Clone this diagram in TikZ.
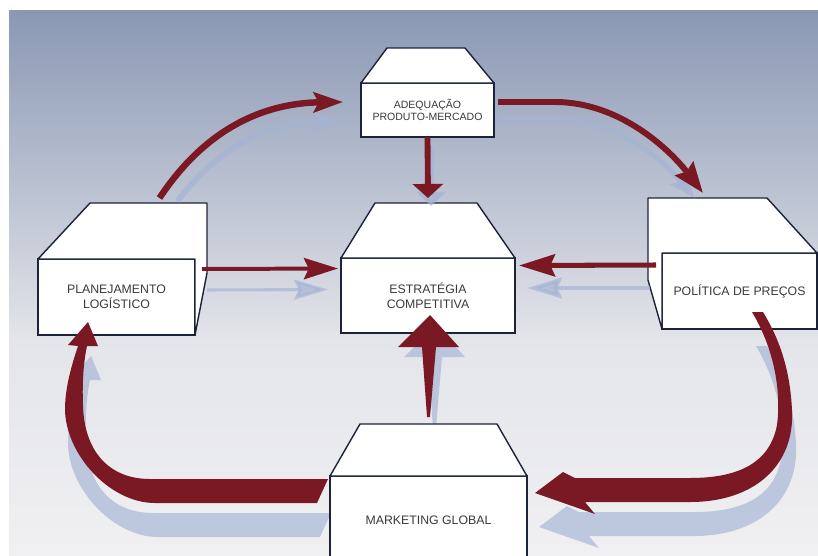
\documentclass[tikz,border=0pt]{standalone}
\usepackage{fontspec}
\setmainfont{Liberation Sans}
\usetikzlibrary{arrows.meta,calc}
\definecolor{flowred}{RGB}{122,24,36}
\definecolor{flowshade}{RGB}{165,180,212}
\definecolor{boxline}{RGB}{28,34,58}
\definecolor{bgtop}{RGB}{138,152,180}
\definecolor{bgmid}{RGB}{228,229,234}
\definecolor{bgbottom}{RGB}{240,240,242}
\definecolor{textgray}{RGB}{58,58,62}
\tikzset{
  every node/.style={
    font=\fontsize{10.5}{12.8}\selectfont,
    text=textgray
  },
  front/.style n args={2}{
    shape=rectangle,
    minimum width=#1*0.3mm,
    minimum height=#2*0.3mm,
    inner sep=0pt,
    outer sep=0pt,
    align=center,
    draw=boxline,
    line width=1.2pt,
    fill=white
  },
  topface/.style={
    draw=boxline,
    line width=1.2pt,
    line join=round,
    fill=white
  },
  shadowflow/.style={
    flowshade,
    opacity=0.67
  },
  flow/.style n args={4}{
    line width=#1,
    -{Stealth[length=#2,width=#3,inset=#4]}
  },
  push up/.pic={
    \fill[pic actions] (427,-417) -- (422,-347) -- (398,-347) -- (430,-315)
      -- (459,-347) -- (436,-347) -- (430,-417) -- cycle;
  },
  loop left/.pic={
    \fill[pic actions] (328,-479) -- (150,-479)
      .. controls (108,-479) and (84,-450) .. (83,-405)
      .. controls (82,-380) and (84,-360) .. (87,-346)
      -- (98,-346) -- (88,-322) -- (68,-345) -- (78,-346)
      .. controls (70,-370) and (65,-390) .. (65,-410)
      .. controls (66,-455) and (110,-503) .. (155,-503)
      -- (317,-503) -- cycle;
  },
  loop right/.pic={
    \fill[pic actions] (752,-312)
      .. controls (776,-352) and (781,-395) .. (777,-425)
      .. controls (770,-462) and (740,-478) .. (690,-478)
      -- (575,-478) -- (563,-472) -- (535,-493) -- (595,-514) -- (585,-502)
      -- (690,-502)
      .. controls (755,-502) and (795,-465) .. (792,-410)
      .. controls (790,-370) and (780,-340) .. (763,-312) -- cycle;
  }
}
\begin{document}
\begin{tikzpicture}[x=0.3mm,y=0.3mm]
  \useasboundingbox (0,0) rectangle (818,-555);
  \clip (0,0) rectangle (818,-555);
  % background
  \fill[white] (0,0) rectangle (818,-555);
  \fill[top color=bgtop, bottom color=bgmid] (9,-10) rectangle (818,-341);
  \fill[top color=bgmid, bottom color=bgbottom] (9,-340) rectangle (818,-555);

  % shadows of the wide arrows
  \pic[fill=flowshade, opacity=0.67] at (6,-10) {push up};
  \pic[fill=flowshade, opacity=0.67] at (3,-34) {loop left};
  \pic[fill=flowshade, opacity=0.67] at (4,-34) {loop right};

  % boxes
  \node[front={133}{54}, font=\fontsize{9}{10.2}\selectfont] (adeq) at (427.5,-110) {ADEQUAÇÃO\\PRODUTO-MERCADO};
  \node[front={157}{76}] (plan) at (116.5,-297) {PLANEJAMENTO\\LOGÍSTICO};
  \node[front={174}{75}] (estr) at (428,-295.5) {ESTRATÉGIA\\COMPETITIVA};
  \node[front={155}{76}] (prec) at (739.5,-291) {POLÍTICA DE PREÇOS};
  \node[front={197}{88}] (mkt) at (428.5,-520) {MARKETING GLOBAL};

  \draw[topface] (adeq.north west) -- ++(26,35) -- ++(78,0) -- (adeq.north east) -- cycle;
  \draw[topface] (plan.north west) -- ++(52,56) -- ++(117,0) -- ++(0,-70) -- (plan.south east) -- (plan.north east) -- cycle;
  \draw[topface] (estr.north west) -- ++(34,55) -- ++(102,0) -- (estr.north east) -- cycle;
  \draw[topface] (prec.north east) -- ++(-50,55) -- ++(-119,0) -- ++(0,-82) -- (prec.south west) -- (prec.north west) -- cycle;
  \draw[topface] (mkt.north west) -- ++(30,52) -- ++(137,0) -- (mkt.north east) -- cycle;

  % shadows of the narrow arrows
  \draw[shadowflow, flow={5pt}{24pt}{16pt}{4pt}] ($(plan.north)+(61,58)$)
    .. controls +(40,52) and +(-78,0) .. ($(adeq.west)+(-18,-12)$);
  \draw[shadowflow, flow={4.5pt}{22pt}{17pt}{3pt}] ($(adeq.east)+(5,-9)$) -- ++(56,0)
    .. controls +(60,0) and +(-33,40) .. ($(prec.north)+(-45,55)$);
  \draw[shadowflow, flow={5pt}{12pt}{25pt}{0pt}] ($(adeq.south)+(4,-10)$) -- ($(estr.north)+(3,52)$);
  \draw[shadowflow, flow={2.6pt}{29pt}{17pt}{4pt}] ($(plan.east)+(12,7)$) -- ($(estr.west)+(-13,6)$);
  \draw[shadowflow, flow={3.4pt}{30pt}{18pt}{4pt}] ($(prec.west)+(-12,3)$) -- ($(estr.east)+(12,7.5)$);

  % arrows
  \draw[flowred, flow={5.5pt}{25pt}{17pt}{4.3pt}] ($(plan.north)+(43,61)$)
    .. controls +(45,68) and +(-81,-1) .. ($(adeq.west)+(-18,8)$);
  \draw[flowred, flow={5.1pt}{26pt}{19pt}{3pt}] ($(adeq.east)+(4,8)$) -- ++(57,0)
    .. controls +(65,0) and +(-33,43) .. ($(prec.north)+(-36.5,60)$);
  \draw[flowred, flow={5pt}{12pt}{25.6pt}{0pt}] (adeq.south) -- ($(estr.north)+(0,60)$);
  \draw[flowred, flow={3.4pt}{29pt}{18pt}{4pt}] ($(plan.east)+(7,28)$) -- ($(estr.west)+(-3,27)$);
  \draw[flowred, flow={4.3pt}{30.7pt}{18.8pt}{4pt}] ($(prec.west)+(-6,26)$) -- ($(estr.east)+(4,30)$);
  \pic[fill=flowred] at (0,0) {push up};
  \pic[fill=flowred] at (0,0) {loop left};
  \pic[fill=flowred] at (0,0) {loop right};
\end{tikzpicture}
\end{document}
